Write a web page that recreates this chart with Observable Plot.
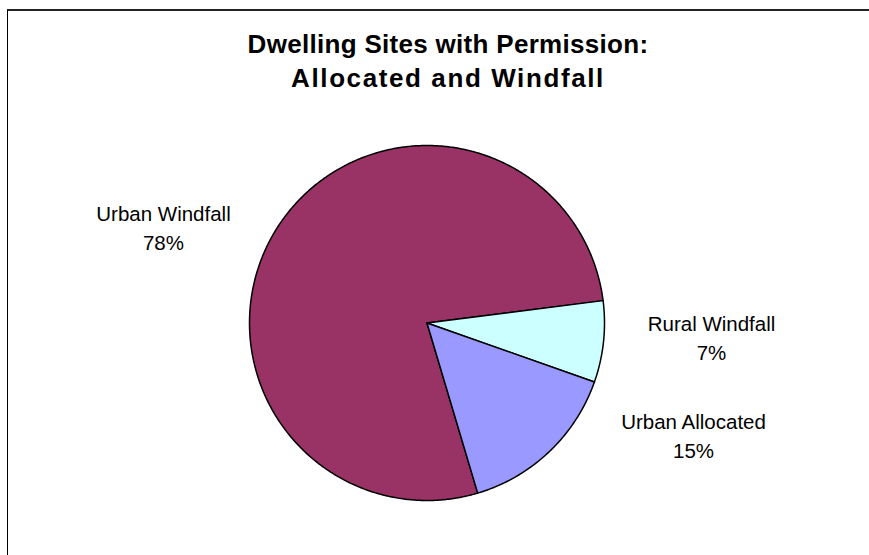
<!DOCTYPE html>
<html><head><meta charset="utf-8">
<script src="https://cdn.jsdelivr.net/npm/d3@7"></script>
<script src="https://cdn.jsdelivr.net/npm/@observablehq/plot@0.6"></script>
<style>
html,body{margin:0;padding:0;background:#fff;width:869px;height:555px;overflow:hidden;font-family:"Liberation Sans",Arial,sans-serif}
#chart{position:absolute;left:0;top:0}
#frame{position:absolute;left:7px;top:9px;width:900px;height:600px;border-top:2px solid #222;border-left:1px solid #000;pointer-events:none}
#title{position:absolute;left:0;width:896px;top:27px;text-align:center;font-weight:bold;font-size:26px;line-height:34px;color:#000}
#title .l1{letter-spacing:0.3px}
#title .l2{letter-spacing:1.6px}
</style></head><body>
<div id="chart"></div>
<div id="frame"></div>
<div id="title"><span class="l1">Dwelling Sites with Permission:</span><br><span class="l2">Allocated and Windfall</span></div>
<script>
// data
const categories = ["Urban Windfall", "Rural Windfall", "Urban Allocated"];
const shares = [77.6, 7.4, 15.0];
const colors = ["#993366", "#CCFFFF", "#9999FF"];

// layout constants (not data)
const startDeg = 163.4;           // clockwise from 12 o'clock
const R = 177.5;                  // pixel radius, matches scale ranges below
const labelShift = {              // pixel offsets of labels from arc midpoint
  "Urban Windfall": [-114.8, 0.4],
  "Rural Windfall": [108, -5.6],
  "Urban Allocated": [144.1, -17.6]
};

const total = d3.sum(shares);
const rad = a => a * Math.PI / 180;
const polys = [];
const labels = [];
let a0 = startDeg;
categories.forEach((cat, i) => {
  const span = shares[i] / total * 360;
  const a1 = a0 + span;
  polys.push({cat, x: 0, y: 0});
  const n = Math.max(2, Math.ceil(span / 0.5));
  for (let k = 0; k <= n; k++) {
    const a = rad(a0 + span * k / n);
    polys.push({cat, x: Math.sin(a), y: Math.cos(a)});
  }
  polys.push({cat, x: 0, y: 0});
  const am = rad(a0 + span / 2);
  const [sx, sy] = labelShift[cat];
  labels.push({
    cat,
    x: Math.sin(am) + sx / R,
    y: Math.cos(am) - sy / R,
    text: cat + "\n" + Math.round(shares[i] / total * 100) + "%"
  });
  a0 = a1;
});

const chart = Plot.plot({
  width: 869,
  height: 555,
  margin: 0,
  style: {background: "none", fontFamily: "'Liberation Sans', Arial, sans-serif"},
  x: {domain: [-1, 1], range: [426.5 - R, 426.5 + R], axis: null},
  y: {domain: [-1, 1], range: [322.5 + R, 322.5 - R], axis: null},
  color: {domain: categories, range: colors},
  marks: [
    Plot.line(polys, {x: "x", y: "y", z: "cat", fill: "cat", stroke: "#000", strokeWidth: 1.5, strokeLinejoin: "round", curve: "linear"}),
    Plot.text(labels, {x: "x", y: "y", text: "text", fill: "#000", fontSize: 20.5, lineHeight: 1.41, textAnchor: "middle"})
  ]
});
document.getElementById("chart").appendChild(chart);
</script>
</body></html>
